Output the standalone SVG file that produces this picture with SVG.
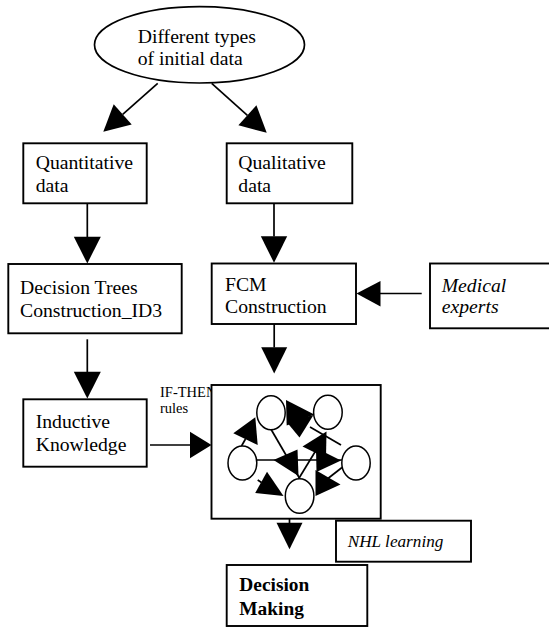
<svg xmlns="http://www.w3.org/2000/svg" width="549" height="627" viewBox="0 0 549 627">
<style>
 .box{fill:#fff;stroke:#000;stroke-width:1.9}
 .t{font-family:"Liberation Serif","Times New Roman",serif;font-size:19.7px;fill:#000}
 .it{font-style:italic}
 .b{font-weight:bold;font-size:19.4px}
 .small{font-size:14.5px}
 .ln{stroke:#000;stroke-width:1.7;fill:none}
 .ah{fill:#000;stroke:none}
 .nd{fill:#fff;stroke:#000;stroke-width:1.5}
</style>
<rect width="549" height="627" fill="#fff"/>

<g id="connectors">
 <!-- ellipse to Quantitative -->
 <line class="ln" x1="157.7" y1="83.3" x2="122.7" y2="114.4"/>
 <polygon class="ah" points="103.3,131.7 131.7,124.5 113.7,104.3"/>
 <!-- ellipse to Qualitative -->
 <line class="ln" x1="211.7" y1="83.3" x2="247.4" y2="115.3"/>
 <polygon class="ah" points="266.7,132.7 238.4,125.3 256.4,105.3"/>
 <!-- Quantitative to Decision Trees -->
 <line class="ln" x1="87.3" y1="203.3" x2="87.3" y2="237"/>
 <polygon class="ah" points="73.8,236.7 100.8,236.7 87.3,263.5"/>
 <!-- Qualitative to FCM -->
 <line class="ln" x1="274" y1="203.3" x2="274" y2="236.5"/>
 <polygon class="ah" points="260.8,236.2 287.2,236.2 274,262.8"/>
 <!-- Medical experts to FCM -->
 <line class="ln" x1="421.7" y1="293.5" x2="380" y2="293.5"/>
 <polygon class="ah" points="380.5,281 380.5,306.5 356.5,293.5"/>
 <!-- FCM to network -->
 <line class="ln" x1="274.2" y1="324" x2="274.2" y2="347.5"/>
 <polygon class="ah" points="261.2,347.2 287.2,347.2 274.2,373.5"/>
 <!-- Decision Trees to Inductive -->
 <line class="ln" x1="87.3" y1="339.3" x2="87.3" y2="372"/>
 <polygon class="ah" points="73.8,371.7 100.8,371.7 87.3,398.5"/>
 <!-- Inductive to network -->
 <line class="ln" x1="150" y1="445" x2="190.5" y2="445"/>
 <polygon class="ah" points="190,431.7 190,458.3 211.5,445"/>
 <text class="t small" x="160" y="396.7">IF-THEN</text>
 <text class="t small" x="160" y="413.3">rules</text>
 <!-- network to Decision Making -->
 <line class="ln" x1="289.5" y1="518.7" x2="289.5" y2="523"/>
 <polygon class="ah" points="276.5,522.7 302.5,522.7 289.5,549.3"/>
</g>

<g id="node-initial-data">
 <ellipse cx="199.5" cy="44.8" rx="105" ry="38.2" fill="#fff" stroke="#000" stroke-width="1.7"/>
 <text class="t" x="137.7" y="42.7">Different types</text>
 <text class="t" x="137.7" y="65">of initial data</text>
</g>

<g id="node-quantitative">
 <rect class="box" x="23.3" y="143.3" width="123.4" height="60"/>
 <text class="t" x="35.7" y="169.3">Quantitative</text>
 <text class="t" x="35.7" y="191.7">data</text>
</g>

<g id="node-qualitative">
 <rect class="box" x="226.7" y="143.3" width="125.6" height="60"/>
 <text class="t" x="238.3" y="169.3">Qualitative</text>
 <text class="t" x="238.3" y="192">data</text>
</g>

<g id="node-decision-trees">
 <rect class="box" x="8.3" y="264" width="173.4" height="69.3"/>
 <text class="t" x="20" y="294">Decision Trees</text>
 <text class="t" x="20" y="316.7">Construction_ID3</text>
</g>

<g id="node-fcm-construction">
 <rect class="box" x="211.7" y="263.5" width="144.3" height="60.5"/>
 <text class="t" x="225" y="291">FCM</text>
 <text class="t" x="225" y="312.7">Construction</text>
</g>

<g id="node-medical-experts">
 <rect class="box" x="430" y="263.5" width="125" height="64.8"/>
 <text class="t it" x="441.7" y="291.7">Medical</text>
 <text class="t it" x="441.7" y="313.3">experts</text>
</g>

<g id="node-inductive">
 <rect class="box" x="23.3" y="399.3" width="123.4" height="67.4"/>
 <text class="t" x="35.7" y="428.3">Inductive</text>
 <text class="t" x="35.7" y="450.7">Knowledge</text>
</g>

<g id="node-fcm-network">
 <rect class="box" x="211.5" y="385" width="169.2" height="133.7"/>
 <!-- internal edges -->
 <line class="ln" x1="241.5" y1="446" x2="245.5" y2="439"/>
 <line class="ln" x1="271" y1="429.3" x2="299.5" y2="478.3"/>
 <line class="ln" x1="256.7" y1="460" x2="342" y2="460"/>
 <line class="ln" x1="310" y1="427" x2="341" y2="445"/>
 <line class="ln" x1="298.5" y1="479" x2="318" y2="447"/>
 <line class="ln" x1="342" y1="467.5" x2="326" y2="480"/>
 <line class="ln" x1="257.7" y1="480" x2="261.5" y2="482.5"/>
 <!-- internal nodes -->
 <ellipse class="nd" cx="271" cy="412.7" rx="14.2" ry="17"/>
 <ellipse class="nd" cx="327.9" cy="412.2" rx="14.3" ry="17"/>
 <ellipse class="nd" cx="242.4" cy="463" rx="14.4" ry="17"/>
 <ellipse class="nd" cx="356" cy="463" rx="14.2" ry="17"/>
 <ellipse class="nd" cx="299.6" cy="496" rx="14.3" ry="17.3"/>
 <!-- internal arrowheads -->
 <polygon class="ah" points="255.3,417.3 233.3,433.3 257.7,445"/>
 <polygon class="ah" points="314.3,414.5 286,400 286.7,425.5"/>
 <polygon class="ah" points="286.7,422 313.5,415 299.5,437.5"/>
 <polygon class="ah" points="273.5,460 297.5,449.5 298.5,476"/>
 <polygon class="ah" points="302.5,446.5 326.5,431.5 326,458"/>
 <polygon class="ah" points="341,460.5 316,448 316.5,472"/>
 <polygon class="ah" points="315.5,470 340.5,484.5 315.5,496"/>
 <polygon class="ah" points="267,471.7 255.2,493 283.5,496"/>
</g>

<g id="node-nhl">
 <rect class="box" x="336" y="520.7" width="135" height="41"/>
 <text class="t it" x="347.7" y="546.7" style="font-size:17.2px">NHL learning</text>
</g>

<g id="node-decision-making">
 <rect class="box" x="226.7" y="565" width="140.6" height="61"/>
 <text class="t b" x="239.3" y="590.7">Decision</text>
 <text class="t b" x="239.3" y="615">Making</text>
</g>
</svg>
